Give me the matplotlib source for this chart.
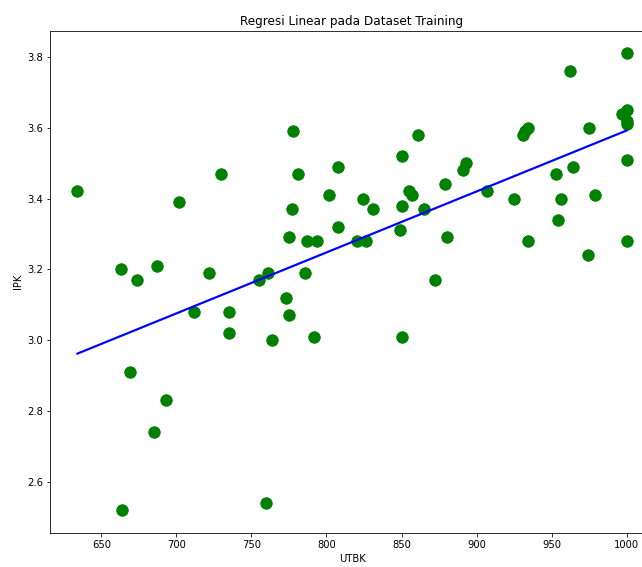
import numpy as np
import matplotlib.pyplot as plt

utbk = [634, 663, 664, 669, 674, 685, 687, 693, 702, 712, 722, 730, 735, 735,
        755, 760, 761, 764, 773, 775, 775, 777, 778, 781, 786, 787, 792, 794,
        802, 808, 808, 820, 824, 826, 831, 849, 850, 850, 850, 855, 857, 861,
        865, 872, 879, 880, 891, 893, 907, 925, 931, 932, 934, 934, 953, 954,
        956, 962, 964, 974, 975, 979, 997, 1000, 1000, 1000, 1000, 1000, 1000]
ipk = [3.42, 3.20, 2.52, 2.91, 3.17, 2.74, 3.21, 2.83, 3.39, 3.08, 3.19, 3.47, 3.08, 3.02,
       3.17, 2.54, 3.19, 3.00, 3.12, 3.07, 3.29, 3.37, 3.59, 3.47, 3.19, 3.28, 3.01, 3.28,
       3.41, 3.49, 3.32, 3.28, 3.40, 3.28, 3.37, 3.31, 3.01, 3.38, 3.52, 3.42, 3.41, 3.58,
       3.37, 3.17, 3.44, 3.29, 3.48, 3.50, 3.42, 3.40, 3.58, 3.59, 3.60, 3.28, 3.47, 3.34,
       3.40, 3.76, 3.49, 3.24, 3.60, 3.41, 3.64, 3.65, 3.62, 3.61, 3.51, 3.28, 3.81]

# koefisien model (dibaca dari garis di gambar)
slope = 0.001721
intercept = 1.871

x = np.array(utbk)
y = np.array(ipk)
y_pred = slope * x + intercept

fig = plt.figure(figsize=(642/72, 567/72), dpi=72)
ax = fig.add_axes([50/642, 34/567, 604/642, 502.5/567])
ax.scatter(x, y, color="green", s=130)
ax.plot(x, y_pred, color="blue", linewidth=2.2)
ax.set_title("Regresi Linear pada Dataset Training")
ax.set_xlabel("UTBK")
ax.set_ylabel("IPK")
fig.savefig("out.png", dpi=72)
